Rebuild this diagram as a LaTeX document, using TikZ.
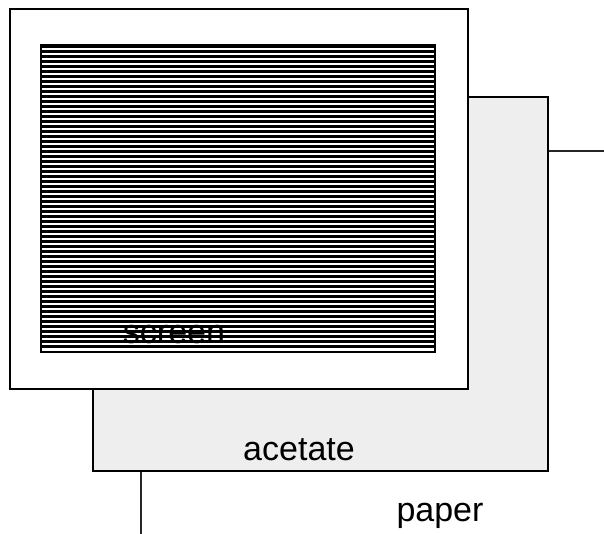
\documentclass[tikz,border=0pt]{standalone}
\usepackage{fontspec}
\setmainfont{Liberation Sans}
\definecolor{acetategrey}{HTML}{EEEEEE}
\tikzset{
  sheet/.style={draw=black, line width=2.2pt},
  paperline/.style={draw=black!85, line width=2pt},
  stripe/.style={draw=black, line width=2.8pt},
  lbl/.style={font=\fontsize{34}{40}\selectfont, anchor=base, inner sep=0pt, text=black}
}
\begin{document}
\begin{tikzpicture}[x=1pt,y=-1pt]
\useasboundingbox (0,0) rectangle (604,534);
\begin{scope}
\clip (0,0) rectangle (604,534);
% paper
\draw[paperline] (141,600) -- (141,151) -- (700,151);
% acetate
\filldraw[sheet, fill=acetategrey] (93,97) rectangle (548,471);
% screen frame
\filldraw[sheet, fill=white] (10,9) rectangle (468,389);
% striped screen
\fill[white] (41,45) rectangle (435,352);
\foreach \i in {0,...,60} {
  \draw[stripe] (41,{46.5+\i*5}) -- (435,{46.5+\i*5});
}
\draw[line width=1.8pt] (41,45) rectangle (435,352);
\end{scope}
\node[lbl] (screen) at (174,343) {screen};
\node[lbl] (acetate) at (299,460) {acetate};
\node[lbl] (paper) at (440,521) {paper};
\end{tikzpicture}
\end{document}
